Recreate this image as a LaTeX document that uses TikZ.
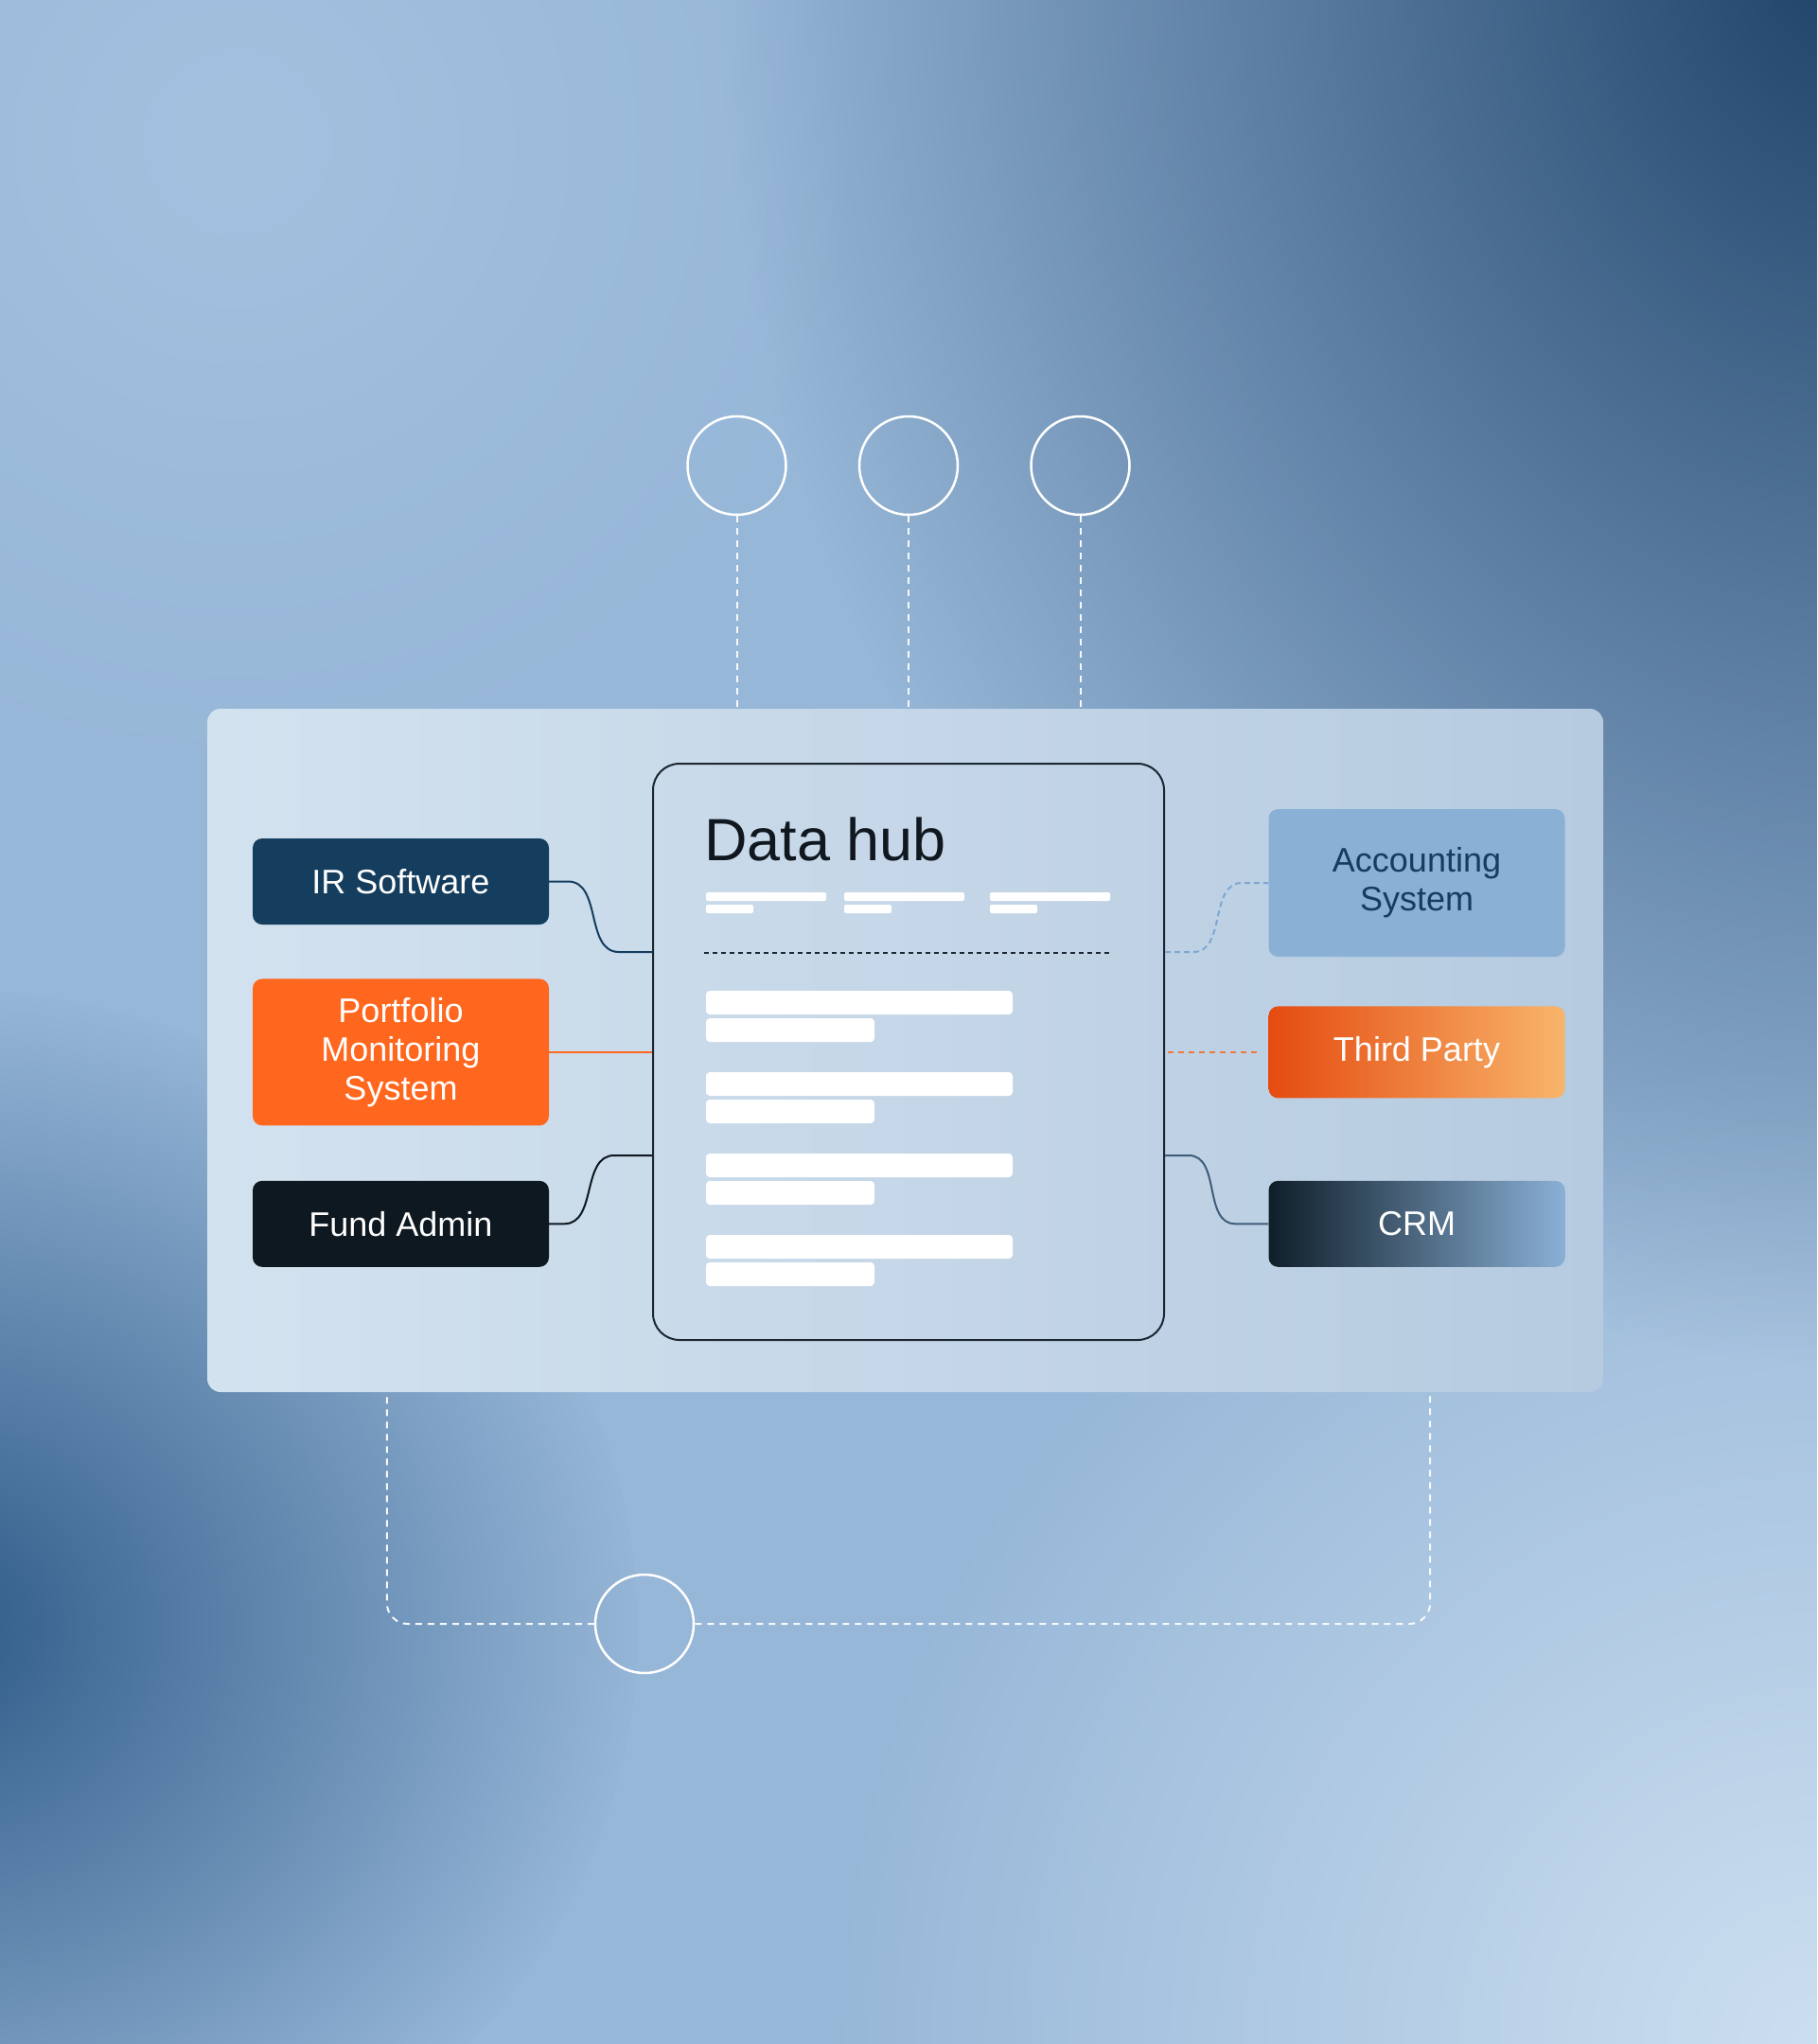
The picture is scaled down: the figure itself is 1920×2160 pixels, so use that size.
\documentclass[tikz,border=0pt]{standalone}
\usepackage{fontspec}
\setmainfont{Liberation Sans}
\usetikzlibrary{calc}
\usetikzlibrary{positioning,fadings}

\definecolor{bgbase}{HTML}{97B7D8}
\definecolor{bgdark}{HTML}{1D4168}
\definecolor{bgleft}{HTML}{2E5A87}
\definecolor{bglight}{HTML}{CCDFF0}
\definecolor{bgtop}{HTML}{A3C1DF}
\definecolor{panelL}{HTML}{D3E2EF}
\definecolor{panelR}{HTML}{B6CBE0}
\definecolor{hubline}{HTML}{1B2733}
\definecolor{irblue}{HTML}{143D5E}
\definecolor{pmsorange}{HTML}{FF661E}
\definecolor{fundblack}{HTML}{0E1820}
\definecolor{accblue}{HTML}{8AB0D6}
\definecolor{accline}{HTML}{7FA7D2}
\definecolor{tpred}{HTML}{E54B10}
\definecolor{tplight}{HTML}{F8B56B}
\definecolor{tpline}{HTML}{EF7A3A}
\definecolor{crmdark}{HTML}{0F1E29}
\definecolor{crmline}{HTML}{3F5C78}

\tikzfading[name=blob, inner color=transparent!0, outer color=transparent!100]

\tikzset{
  sysbox/.style={rounded corners=10pt, minimum width=313pt, minimum height=91pt, inner sep=0pt,
    text=white, align=center, font=\fontsize{36}{41}\selectfont},
  link/.style={line width=2pt},
  ring/.style={draw=white, circle, line width=2.5pt, minimum size=104pt, inner sep=0pt},
  guide/.style={draw=white!92!accblue, line width=2pt, dash pattern=on 7pt off 6pt},
  bar/.style={fill=white, rounded corners=4pt},
}

\begin{document}
\begin{tikzpicture}[x=1pt, y=-1pt]
  \useasboundingbox (0,0) rectangle (1920,2160);
  % background
  \fill[bgbase] (0,0) rectangle (1920,2160);
  \begin{scope}
    \clip (0,0) rectangle (1920,2160);
    \fill[bgtop, path fading=blob] (250,150) circle (700);
    \fill[bglight, path fading=blob] (1920,2160) circle (1050);
    \fill[bgdark, path fading=blob] (1960,-60) ellipse [x radius=1200, y radius=1500];
    \fill[bgleft, path fading=blob] (-80,1720) ellipse [x radius=760, y radius=680];
  \end{scope}

  \node[rounded corners=14pt, left color=panelL, right color=panelR, minimum width=1475pt, minimum height=722pt] (panel) at (956.5,1110) {};
  \node[draw=hubline, line width=2pt, rounded corners=28pt, minimum width=540pt, minimum height=609pt] (hub) at (960,1111.5) {};

  % sources on the left
  \node[sysbox, fill=irblue] (ir) at (423.5,931.5) {IR Software};
  \node[sysbox, fill=pmsorange, minimum height=155pt, below=57pt of ir] (pms) {Portfolio\\Monitoring\\System};
  \node[sysbox, fill=fundblack, below=58pt of pms] (fund) {Fund Admin};

  % sources on the right
  \node[sysbox, fill=accblue, text=irblue, minimum height=156pt] (acc) at (1497,933) {Accounting\\System};
  \node[sysbox, left color=tpred, right color=tplight, minimum height=97pt, below=52pt of acc] (third) {Third Party};
  \node[sysbox, left color=crmdark, right color=accblue, below=87pt of third] (crm) {CRM};

  % rings
  \node[ring] (c2) at (960,492) {};
  \node[ring, left=75pt of c2] (c1) {};
  \node[ring, right=75pt of c2] (c3) {};
  \node[ring] (cb) at (681,1716) {};

  \foreach \c in {c1,c2,c3}
    \draw[guide] (\c.south) -- (\c.south |- panel.north);
  \draw[guide, rounded corners=22pt] (cb.west) -| ($(panel.south west)+(190,0)$);
  \draw[guide, rounded corners=22pt] (cb.east) -| ($(panel.south east)+(-183,0)$);

  % hub contents
  \node[anchor=base west, inner sep=0pt, text=hubline!60!black, font=\fontsize{63}{70}\selectfont] (title) at ($(hub.north west)+(55,103)$) {Data hub};
  \foreach \x in {57,203,357} {
    \fill[bar, rounded corners=2pt] ($(hub.north west)+(\x,137)$) rectangle ++(127,9);
    \fill[bar, rounded corners=2pt] ($(hub.north west)+(\x,150)$) rectangle ++(50,9);
  }
  \draw[hubline, line width=1.5pt, dash pattern=on 5pt off 4pt] ($(hub.north west)+(55,201)$) -- ++(429,0);
  \foreach \k in {0,...,3} {
    \fill[bar] ($(hub.north west)+(57,241+86*\k)$) rectangle ++(324,25);
    \fill[bar] ($(hub.north west)+(57,270+86*\k)$) rectangle ++(178,25);
  }

  % connectors
  \coordinate (hubL1) at ($(hub.north west)+(0,200)$);
  \coordinate (hubL2) at ($(hub.north west)+(0,415)$);
  \coordinate (hubR1) at ($(hub.north east)+(0,200)$);
  \coordinate (hubR2) at ($(hub.north east)+(0,415)$);
  \draw[link, irblue] (ir.east) -- ++(20,0) to[out=0,in=180] ($(hubL1)+(-35,0)$) -- (hubL1);
  \draw[link, pmsorange, line width=1.5pt] (pms.east) -- (pms.east -| hub.west);
  \draw[link, fundblack] (fund.east) -- ++(16,0) to[out=0,in=180] ($(hubL2)+(-40,0)$) -- (hubL2);
  \draw[link, accline, dash pattern=on 6pt off 4pt] (hubR1) -- ++(30,0) to[out=0,in=180] ($(acc.west)+(-28,0)$) -- (acc.west);
  \draw[link, tpline, dash pattern=on 6pt off 5pt, shorten <=3pt, shorten >=8pt] (hub.east |- third.west) -- (third.west);
  \draw[link, crmline] (hubR2) -- ++(25,0) to[out=0,in=180] ($(crm.west)+(-35,0)$) -- (crm.west);
\end{tikzpicture}
\end{document}
